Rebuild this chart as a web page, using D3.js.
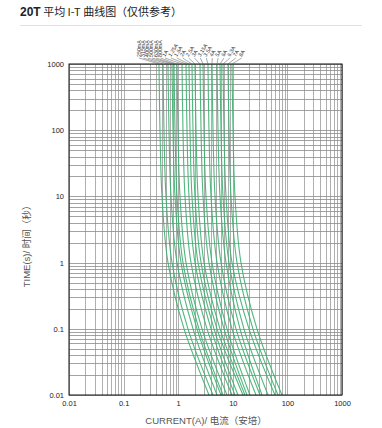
<!DOCTYPE html>
<html><head><meta charset="utf-8">
<script src="https://cdn.jsdelivr.net/npm/d3@7"></script>
<style>body{margin:0;background:#fff}text{font-family:"Liberation Sans",Arial,"Noto Sans CJK SC",sans-serif}</style>
</head><body>
<svg id="c" width="382" height="428"></svg>
<script>
const times = [1000, 100, 10, 1, 0.1, 0.01];
const ratings = ["250mA","315mA","400mA","500mA","630mA","800mA","1A","1.25A","1.6A","2A","2.5A","3A","3.15A","3.5A","4A","5A","6A","6.3A","7A","8A"];
const currents = [
  [0.445,0.464,0.505,0.650,1.28,3.66],
  [0.527,0.549,0.598,0.770,1.51,4.34],
  [0.650,0.678,0.738,0.951,1.87,5.14],
  [0.770,0.803,0.874,1.125,2.21,6.08],
  [0.838,0.874,0.951,1.224,2.40,6.62],
  [0.951,0.992,1.079,1.390,2.73,7.83],
  [1.174,1.224,1.332,1.716,3.37,9.67],
  [1.390,1.449,1.577,2.03,3.99,10.97],
  [1.577,1.645,1.789,2.31,4.53,12.45],
  [1.789,1.866,2.03,2.62,5.14,15.4],
  [2.03,2.12,2.31,2.97,5.83,16.7],
  [2.51,2.62,2.85,3.66,6.90,18.2],
  [2.85,2.97,3.23,4.16,7.83,20.6],
  [3.51,3.66,3.99,5.14,9.67,26.6],
  [4.16,4.34,4.72,6.08,11.45,31.5],
  [5.14,5.36,5.83,7.51,13.55,34.3],
  [5.83,6.08,6.62,8.52,16.0,44.2],
  [6.62,6.90,7.51,9.67,19.8,59.3],
  [8.17,8.52,9.27,11.94,23.4,67.3],
  [9.67,10.09,10.97,14.1,27.7,79.5]
];
const xTickVals = [0.01, 0.1, 1, 10, 100, 1000];
const xTickLabels = ["0.01","0.1","1","10","100","1000"];
const yTickVals = [0.01, 0.1, 1, 10, 100, 1000];
const yTickLabels = ["0.01","0.1","1","10","100","1000"];

const svg = d3.select("#c");
const L = 69, R = 342, T = 64, B = 395;
const x = d3.scaleLog().domain([0.01, 1000]).range([L, R]);
const y = d3.scaleLog().domain([0.01, 1000]).range([B, T]);

// title
const title = svg.append("text").attr("x", 20).attr("y", 16).attr("font-size", 11).attr("fill", "#222");
title.append("tspan").attr("font-weight", "bold").attr("font-size", 12).text("20T");
title.append("tspan").attr("font-family", "Noto Sans CJK SC").text(" 平均 I-T 曲线图（仅供参考）");
svg.append("line").attr("x1", 20).attr("x2", 362).attr("y1", 25.5).attr("y2", 25.5).attr("stroke", "#e2e2e2");

// grid
const g = svg.append("g");
g.selectAll(".vx").data(x.ticks()).join("line")
  .attr("x1", d => Math.round(x(d)) + 0.5).attr("x2", d => Math.round(x(d)) + 0.5)
  .attr("y1", T).attr("y2", B).attr("stroke", "#9a9a9a").attr("stroke-width", 0.8);
g.selectAll(".hy").data(y.ticks()).join("line")
  .attr("y1", d => Math.round(y(d)) + 0.5).attr("y2", d => Math.round(y(d)) + 0.5)
  .attr("x1", L).attr("x2", R).attr("stroke", "#8a8a8a").attr("stroke-width", 0.8);

// curves
const line = d3.line().x(d => x(d[0])).y(d => y(d[1])).curve(d3.curveCatmullRom.alpha(0.5));
svg.append("g").selectAll("path").data(currents).join("path")
  .attr("d", c => line(c.map((v, k) => [v, times[k]])))
  .attr("fill", "none").attr("stroke", "#3fae70").attr("stroke-width", 1.1).attr("stroke-opacity", 0.9);

// frame
svg.append("rect").attr("x", L).attr("y", T).attr("width", R - L).attr("height", B - T)
  .attr("fill", "none").attr("stroke", "#111").attr("stroke-width", 1);

// axes labels
const xa = d3.axisBottom(x).tickValues(xTickVals).tickFormat((d, i) => xTickLabels[i]).tickSize(0).tickPadding(6);
svg.append("g").attr("transform", `translate(0,${B})`).call(xa)
  .call(s => s.select(".domain").remove())
  .selectAll("text").attr("font-size", 7.5).attr("fill", "#222").attr("font-family", "Liberation Sans, Arial");
const ya = d3.axisLeft(y).tickValues(yTickVals).tickFormat((d, i) => yTickLabels[i]).tickSize(0).tickPadding(5);
svg.append("g").attr("transform", `translate(${L},0)`).call(ya)
  .call(s => s.select(".domain").remove())
  .selectAll("text").attr("font-size", 7.5).attr("fill", "#222").attr("font-family", "Liberation Sans, Arial");

svg.append("text").attr("x", 206).attr("y", 424).attr("text-anchor", "middle")
  .attr("font-size", 9.5).attr("fill", "#555").text("CURRENT(A)/ 电流（安培）");
svg.append("text").attr("transform", "translate(30,244) rotate(-90)").attr("text-anchor", "middle")
  .attr("font-size", 9.5).attr("fill", "#555").text("TIME(s)/ 时间（秒）");

// rating labels + leaders
const lab = svg.append("g");
ratings.forEach((r, i) => {
  const cx = x(currents[i][0]);
  let lx, tr;
  if (i < 6) { lx = 139 + i * 4.3; tr = `translate(${lx + 1.5},57) rotate(-90)`; }
  else { lx = 165 + (i - 6) * 5.9; tr = `translate(${lx},57) rotate(-58)`; }
  lab.append("line").attr("x1", lx).attr("y1", 58).attr("x2", cx).attr("y2", T)
    .attr("stroke", "#555").attr("stroke-width", 0.5);
  lab.append("text").attr("transform", tr).attr("font-size", 5.3).attr("fill", "#333").text(r);
});
</script>
</body></html>
